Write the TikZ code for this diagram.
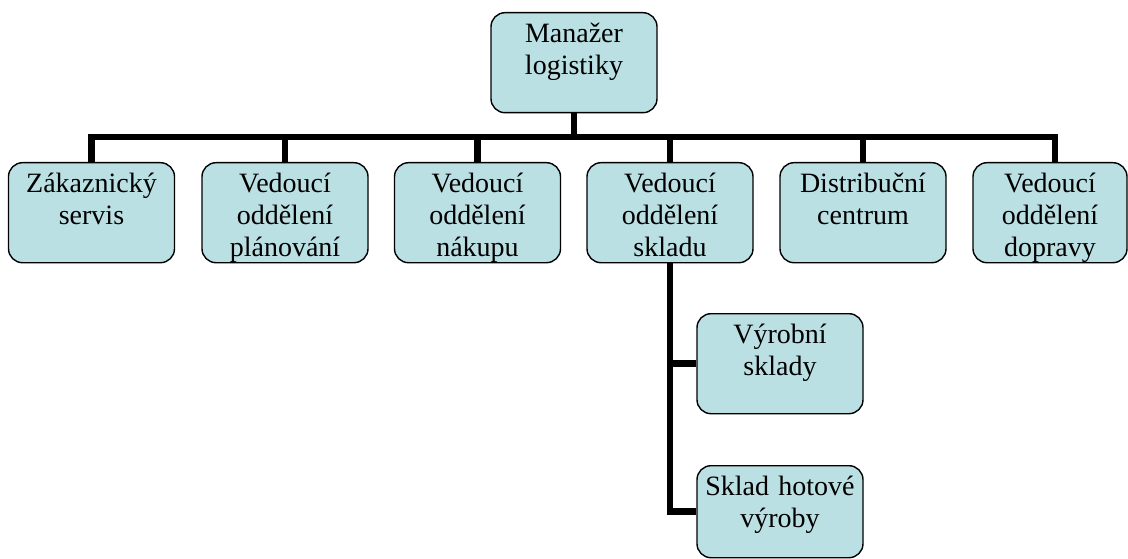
\documentclass[tikz,border=0pt]{standalone}
\usepackage{fontspec}
\setmainfont{Liberation Serif}
\definecolor{boxfill}{RGB}{187,224,227}
\begin{document}
\begin{tikzpicture}[x=1pt,y=-1pt,
  orgbox/.style={draw=black, line width=1.4pt, fill=boxfill,
    rounded corners=14pt, inner sep=0pt, anchor=north,
    text width=#1, align=center,
    font=\fontsize{28}{32}\selectfont,
    text height=30pt, text depth=70pt},
  orgbox/.default=166pt,
  conn/.style={line width=6.5pt, line join=miter}]
\useasboundingbox (0,0) rectangle (1128,559);

% top level
\node[orgbox] (top) at (574,12) {Manažer\\logistiky};

% second level
\node[orgbox] (b1) at (91.5,162) {Zákaznický\\servis};
\node[orgbox] (b2) at (285,162) {Vedoucí\\oddělení\\plánování};
\node[orgbox] (b3) at (477.5,162) {Vedoucí\\oddělení\\nákupu};
\node[orgbox] (b4) at (670,162) {Vedoucí\\oddělení\\skladu};
\node[orgbox] (b5) at (863,162) {Distribuční\\centrum};
\node[orgbox=154pt] (b6) at (1050,162) {Vedoucí\\oddělení\\dopravy};

% third level under the warehouse
\node[orgbox] (c1) at (780,313) {Výrobní\\sklady};
\node[orgbox, text depth=62pt] (c2) at (780,465) {Sklad hotové\\výroby};

% bus between levels
\coordinate (bus) at (574,137);
\coordinate (b6top) at ([xshift=5pt]b6.north);
\draw[conn] (top.south) -- (bus);
\draw[conn] (b1.north) -- (b1.north |- bus) -- (b6top |- bus) -- (b6top);
\foreach \n in {b2,b3,b4,b5}
  \draw[conn] (\n.north) -- (\n.north |- bus);

% warehouse branches
\draw[conn] (b4.south) -- (b4.south |- c2.west) -- (c2.west);
\draw[conn] (b4.south |- c1.west) -- (c1.west);
\end{tikzpicture}
\end{document}
